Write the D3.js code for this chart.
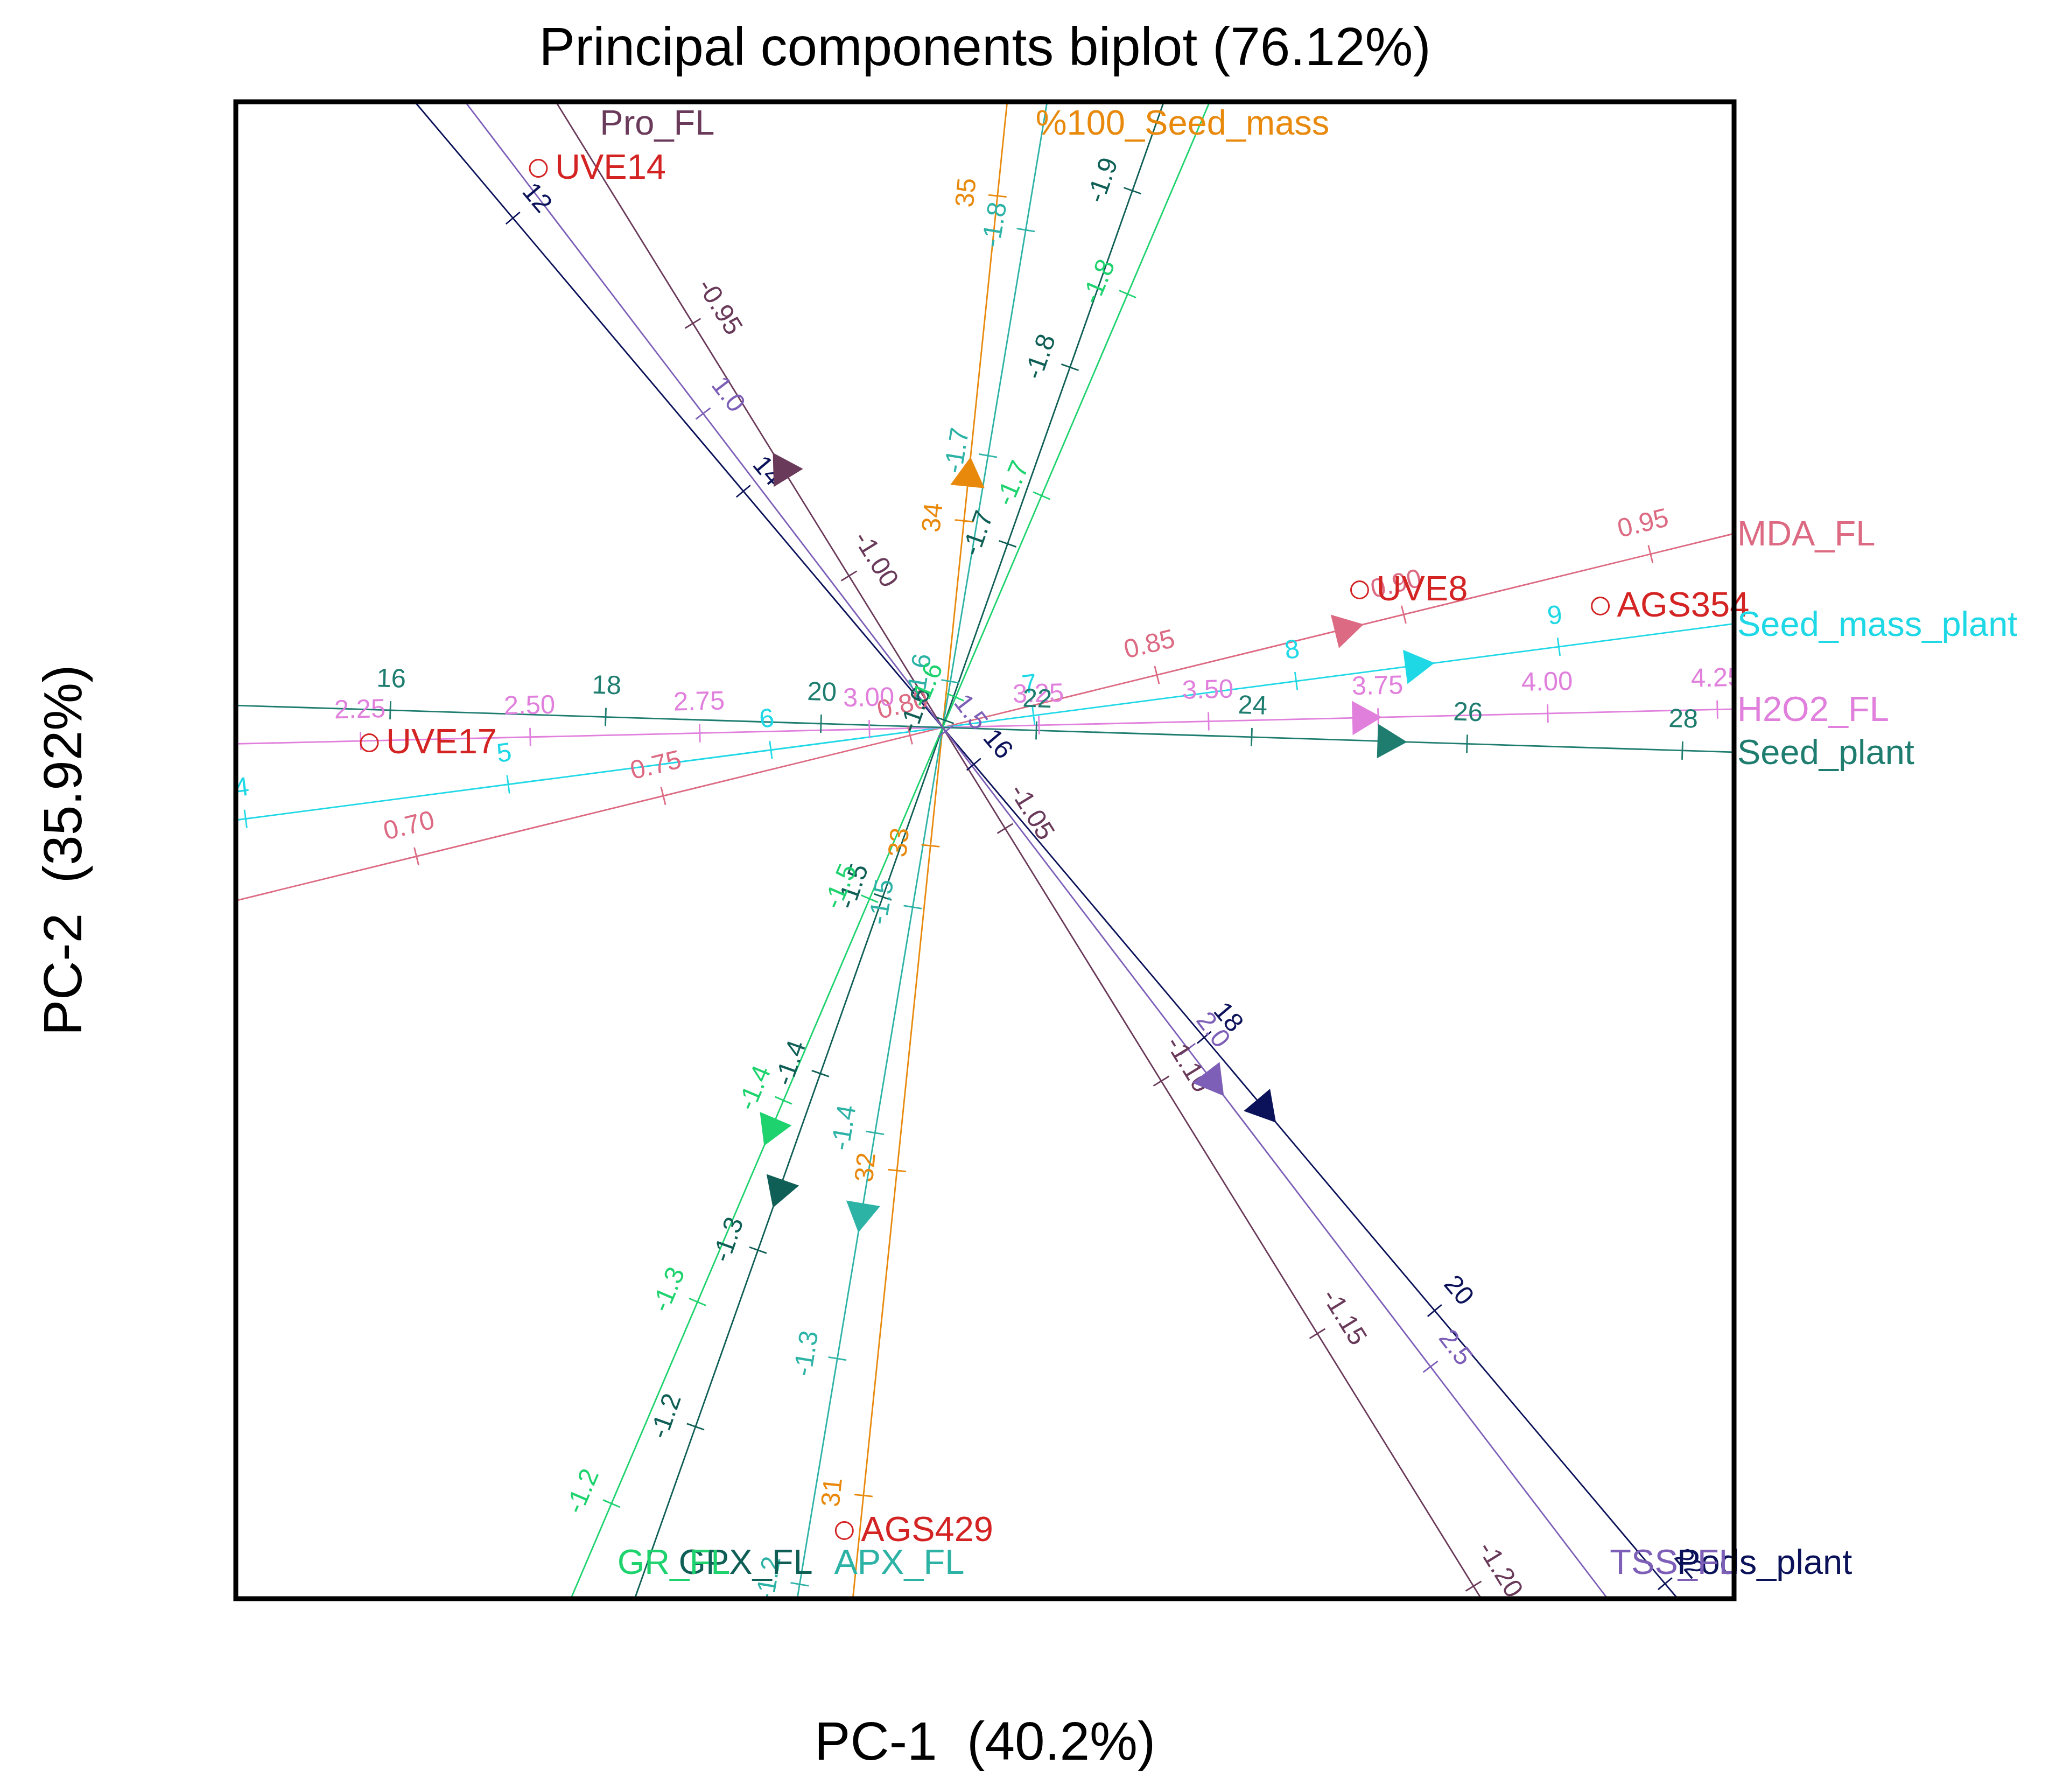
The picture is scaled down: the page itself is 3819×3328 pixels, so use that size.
<!DOCTYPE html>
<html>
<head>
<meta charset="utf-8">
<script src="https://cdn.jsdelivr.net/npm/d3@7"></script>
<style>
html, body { margin: 0; padding: 0; background: #ffffff; }
svg { display: block; }
text { font-family: "Liberation Sans", Arial, Helvetica, sans-serif; }
</style>
</head>
<body>
<svg id="chart" width="3819" height="3328"></svg>
<script>
// ---------------- DATA ----------------
const chartTitle = "Principal components biplot (76.12%)";
const xAxisTitle = "PC-1  (40.2%)";
const yAxisTitle = "PC-2  (35.92%)";

const variables = ["MDA_FL", "Seed_mass_plant", "H2O2_FL", "Seed_plant", "%100_Seed_mass",
                   "APX_FL", "GPX_FL", "GR_FL", "Pro_FL", "Pods_plant", "TSS_FL"];
// loading vectors (arrow tips) in PC units
const loadingPC1 = [0.7819, 0.9137, 0.8158, 0.8626, 0.0518, -0.1566, -0.3153, -0.3317, -0.3155, 0.6191, 0.5224];
const loadingPC2 = [0.1915, 0.1197, 0.0189, -0.0269, 0.5023, -0.9380, -0.8919, -0.7771, 0.5103, -0.7337, -0.6844];
// variable means (value at the origin) and standard deviations (axis calibration)
const variableMeans = [0.8066, 6.654, 3.108, 21.13, 33.364, -1.5796, -1.596, -1.585, -1.030, 15.73, 1.494];
const variableSDs   = [0.13159, 2.2056, 0.97228, 5.7908, 3.2649, 0.24742, 0.30393, 0.29077, 0.15113, 3.1390, 0.78236];
// calibration tick labels for each variable axis
const variableTicks = [
  ["0.70", "0.75", "0.80", "0.85", "0.90", "0.95"],
  ["4", "5", "6", "7", "8", "9"],
  ["2.25", "2.50", "2.75", "3.00", "3.25", "3.50", "3.75", "4.00", "4.25"],
  ["16", "18", "20", "22", "24", "26", "28"],
  ["31", "32", "33", "34", "35"],
  ["-1.8", "-1.7", "-1.6", "-1.5", "-1.4", "-1.3", "-1.2"],
  ["-1.9", "-1.8", "-1.7", "-1.6", "-1.5", "-1.4", "-1.3", "-1.2"],
  ["-1.8", "-1.7", "-1.6", "-1.5", "-1.4", "-1.3", "-1.2"],
  ["-0.95", "-1.00", "-1.05", "-1.10", "-1.15", "-1.20"],
  ["12", "14", "16", "18", "20", "22"],
  ["1.0", "1.5", "2.0", "2.5"]
];
const variableColors = ["#dc6a82", "#1fd8e6", "#e07fdc", "#1f7d70", "#e8890c",
                        "#2db3a6", "#0f5f56", "#1ed36e", "#6a3a5a", "#0b1259", "#7d5fb8"];

const genotypes = ["UVE14", "UVE17", "UVE8", "AGS354", "AGS429"];
const scorePC1 = [-0.751, -1.065, 0.7745, 1.2216, -0.1827];
const scorePC2 = [1.0384, -0.0286, 0.2555, 0.2255, -1.4915];
const pointColor = "#d42323";

const pcDomainX = [-1.313, 1.470];
const pcDomainY = [-1.618, 1.162];

// ---------------- LAYOUT ----------------
const W = 3819, H = 3328;
const plot = { left: 438, right: 3221, top: 189, bottom: 2969 };

const svg = d3.select("#chart");
const x = d3.scaleLinear().domain(pcDomainX).range([plot.left, plot.right]);
const y = d3.scaleLinear().domain(pcDomainY).range([plot.bottom, plot.top]);

svg.append("rect").attr("width", W).attr("height", H).attr("fill", "#ffffff");

svg.append("defs").append("clipPath").attr("id", "plotClip")
  .append("rect")
  .attr("x", plot.left).attr("y", plot.top)
  .attr("width", plot.right - plot.left).attr("height", plot.bottom - plot.top);

const gClip = svg.append("g").attr("clip-path", "url(#plotClip)");
const gLines = gClip.append("g");
const gTicks = gClip.append("g");
const gTickLabels = gClip.append("g");
const gArrows = gClip.append("g");
const gPoints = svg.append("g");
const gLabels = svg.append("g");

const ox = x(0), oy = y(0);
const TICK_HALF = 17, TICK_LABEL_OFF = 60, LABEL_GAP = 57;

variables.forEach((name, i) => {
  const L = [loadingPC1[i], loadingPC2[i]];
  const len2 = L[0] * L[0] + L[1] * L[1];
  const len = Math.sqrt(len2);
  const d = [L[0] / len, L[1] / len];
  const col = variableColors[i];

  // extent of the axis inside the plot region (PC space)
  const tx = d[0] > 0 ? [pcDomainX[0] / d[0], pcDomainX[1] / d[0]] : [pcDomainX[1] / d[0], pcDomainX[0] / d[0]];
  const ty = d[1] > 0 ? [pcDomainY[0] / d[1], pcDomainY[1] / d[1]] : [pcDomainY[1] / d[1], pcDomainY[0] / d[1]];
  const tmin = Math.max(tx[0], ty[0]), tmax = Math.min(tx[1], ty[1]);

  gLines.append("line")
    .attr("x1", x(tmin * d[0])).attr("y1", y(tmin * d[1]))
    .attr("x2", x(tmax * d[0])).attr("y2", y(tmax * d[1]))
    .attr("stroke", col).attr("stroke-width", 2.8);

  // screen direction
  const sdx = x(d[0]) - ox, sdy = y(d[1]) - oy;
  const sl = Math.hypot(sdx, sdy);
  const u = [sdx / sl, sdy / sl];
  const n = [-u[1], u[0]];
  let ang = Math.atan2(u[1], u[0]) * 180 / Math.PI;
  const dirAng = ang;
  if (ang > 90) ang -= 180;
  if (ang <= -90) ang += 180;
  const ar = ang * Math.PI / 180;
  const up = [Math.sin(ar), -Math.cos(ar)];

  // calibration ticks
  variableTicks[i].forEach(lbl => {
    const v = +lbl;
    const k = (v - variableMeans[i]) / variableSDs[i] / len2;
    const px = k * L[0], py = k * L[1];
    if (px < pcDomainX[0] - 1e-9 || px > pcDomainX[1] + 1e-9 || py < pcDomainY[0] - 1e-9 || py > pcDomainY[1] + 1e-9) return;
    const sx = x(px), sy = y(py);
    gTicks.append("line")
      .attr("x1", sx - TICK_HALF * n[0]).attr("y1", sy - TICK_HALF * n[1])
      .attr("x2", sx + TICK_HALF * n[0]).attr("y2", sy + TICK_HALF * n[1])
      .attr("stroke", col).attr("stroke-width", 2.8);
    const lx = sx + TICK_LABEL_OFF * up[0], ly = sy + TICK_LABEL_OFF * up[1];
    gTickLabels.append("text")
      .attr("transform", `translate(${lx},${ly}) rotate(${ang})`)
      .attr("text-anchor", "middle")
      .attr("dominant-baseline", "central")
      .attr("font-size", 49)
      .attr("fill", col)
      .text(lbl);
  });

  // arrow marker at the loading tip
  gArrows.append("path")
    .attr("d", "M0,0 L-55,-32 L-55,32 Z")
    .attr("transform", `translate(${x(L[0])},${y(L[1])}) rotate(${dirAng})`)
    .attr("fill", col);

  // variable label at the positive end
  const ex = x(tmax * d[0]), ey = y(tmax * d[1]);
  const lineXAt = yy => ox + (yy - oy) * (u[0] / u[1]);
  const lab = gLabels.append("text").attr("font-size", 65).attr("fill", col).text(name);
  if (Math.abs(ex - plot.right) < 1) {
    lab.attr("x", plot.right + 6).attr("y", ey).attr("dominant-baseline", "central");
  } else if (Math.abs(ex - plot.left) < 1) {
    lab.attr("x", plot.left - 6).attr("y", ey).attr("dominant-baseline", "central").attr("text-anchor", "end");
  } else if (Math.abs(ey - plot.top) < 1) {
    lab.attr("x", lineXAt(plot.top + 40) + LABEL_GAP).attr("y", plot.top + 61);
  } else {
    lab.attr("x", lineXAt(plot.bottom - 69) + LABEL_GAP).attr("y", plot.bottom - 46);
  }
});

// genotype points
genotypes.forEach((g, i) => {
  const px = x(scorePC1[i]), py = y(scorePC2[i]);
  gPoints.append("circle")
    .attr("cx", px).attr("cy", py).attr("r", 16)
    .attr("fill", "none").attr("stroke", pointColor).attr("stroke-width", 3);
  gPoints.append("text")
    .attr("x", px + 31).attr("y", py - 3)
    .attr("dominant-baseline", "central")
    .attr("font-size", 65).attr("fill", pointColor)
    .text(g);
});

// frame
svg.append("rect")
  .attr("x", plot.left).attr("y", plot.top)
  .attr("width", plot.right - plot.left).attr("height", plot.bottom - plot.top)
  .attr("fill", "none").attr("stroke", "#000000").attr("stroke-width", 9);

// titles
const cx = (plot.left + plot.right) / 2, cy = (plot.top + plot.bottom) / 2;
svg.append("text").attr("x", cx).attr("y", 121).attr("text-anchor", "middle")
  .attr("font-size", 100).attr("fill", "#000").text(chartTitle);
svg.append("text").attr("x", cx).attr("y", 3268).attr("text-anchor", "middle")
  .attr("font-size", 100).attr("fill", "#000").style("white-space", "pre").text(xAxisTitle);
svg.append("text").attr("transform", `translate(151,${cy}) rotate(-90)`).attr("text-anchor", "middle")
  .attr("font-size", 100).attr("fill", "#000").style("white-space", "pre").text(yAxisTitle);
</script>
</body>
</html>
